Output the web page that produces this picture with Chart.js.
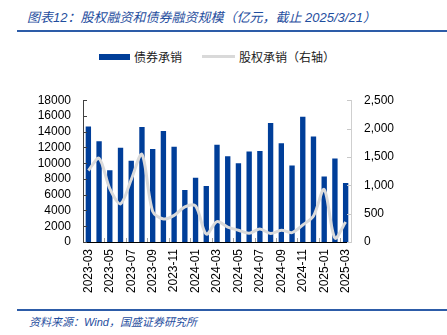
<!DOCTYPE html>
<html>
<head>
<meta charset="utf-8">
<script src="https://cdn.jsdelivr.net/npm/chart.js@4.4.1/dist/chart.umd.min.js"></script>
<style>
  html, body { margin: 0; padding: 0; background: #fff; }
  body { width: 447px; height: 335px; position: relative; overflow: hidden; font-family: "Noto Sans CJK SC", "Liberation Sans", sans-serif; }
  #titulo { position: absolute; left: 27px; top: 7px; font-size: 13px; font-style: italic; color: #1f4e9e; white-space: nowrap; font-family: "Liberation Sans", "Noto Sans CJK SC", sans-serif; }
  .regla { position: absolute; left: 17px; width: 430px; height: 2px; background: #2d5ca8; }
  #leyenda { position: absolute; top: 46px; left: 99px; font-size: 12px; color: #222; white-space: nowrap; }
  #leyenda span { display: inline-block; vertical-align: middle; }
  .caja { width: 31px; height: 6px; background: #003e99; margin-right: 4px; }
  .raya { width: 33px; height: 3px; background: #d9d9d9; margin: 0 4px 0 20px; }
  #contenedor { position: absolute; left: 0; top: 80px; width: 447px; height: 225px; }
  #fuente { position: absolute; left: 29px; top: 313px; font-size: 11px; font-style: italic; color: #1f4e9e; white-space: nowrap; font-family: "Liberation Sans", "Noto Sans CJK SC", sans-serif; }
</style>
</head>
<body>
<div id="titulo">图表12：股权融资和债券融资规模（亿元，截止 2025/3/21）</div>
<div class="regla" style="top:30px"></div>
<div id="leyenda"><span class="caja"></span><span>债券承销</span><span class="raya"></span><span>股权承销（右轴）</span></div>
<div id="contenedor"><canvas id="grafico"></canvas></div>
<div class="regla" style="top:309px"></div>
<div id="fuente">资料来源：Wind，国盛证券研究所</div>

<script>
const meses = ['2023-03', '2023-04', '2023-05', '2023-06', '2023-07', '2023-08', '2023-09',
  '2023-10', '2023-11', '2023-12', '2024-01', '2024-02', '2024-03', '2024-04', '2024-05',
  '2024-06', '2024-07', '2024-08', '2024-09', '2024-10', '2024-11', '2024-12', '2025-01',
  '2025-02', '2025-03'];

// 债券承销（亿元，左轴）
const bonos = [14650, 12800, 9100, 11950, 10300, 14600, 11800, 14100, 12100, 6600, 8150, 7100,
  12350, 10900, 10000, 11500, 11550, 15100, 12550, 9700, 15900, 13400, 8300, 10600, 7500];

// 股权承销（亿元，右轴）
const acciones = [1262, 1475, 940, 673, 1101, 1544, 540, 406, 470, 620, 636, 139,
  360, 262, 208, 155, 230, 150, 208, 166, 300, 460, 925, 70, 353];

const fuenteNum = { family: 'Liberation Sans', size: 12 };

// marcas cortas hacia dentro en los ejes
const marcas = {
  id: 'marcas',
  afterDraw(chart) {
    const { ctx, chartArea: a, scales } = chart;
    ctx.save();
    ctx.lineWidth = 1;
    ctx.strokeStyle = '#404040';
    scales.y.ticks.forEach(t => {
      const y = Math.round(scales.y.getPixelForValue(t.value)) + 0.5;
      ctx.beginPath(); ctx.moveTo(a.left, y); ctx.lineTo(a.left + 4, y); ctx.stroke();
    });
    ctx.strokeStyle = '#c8c8c8';
    scales.y1.ticks.forEach(t => {
      const y = Math.round(scales.y1.getPixelForValue(t.value)) + 0.5;
      ctx.beginPath(); ctx.moveTo(a.right - 4, y); ctx.lineTo(a.right, y); ctx.stroke();
    });
    ctx.strokeStyle = '#a0a0a0';
    for (let i = 1; i < meses.length - 1; i += 2) {
      const x = Math.round((scales.x.getPixelForValue(i) + scales.x.getPixelForValue(i + 1)) / 2) + 0.5;
      ctx.beginPath(); ctx.moveTo(x, a.bottom); ctx.lineTo(x, a.bottom - 4); ctx.stroke();
    }
    ctx.restore();
  }
};

new Chart(document.getElementById('grafico').getContext('2d'), {
  type: 'bar',
  data: {
    labels: meses,
    datasets: [
      {
        type: 'line',
        label: '股权承销（右轴）',
        data: acciones,
        yAxisID: 'y1',
        borderColor: '#dadada',
        borderWidth: 3,
        pointRadius: 0,
        tension: 0.3,
        fill: false,
        order: 0
      },
      {
        label: '债券承销',
        data: bonos,
        yAxisID: 'y',
        backgroundColor: '#003e99',
        barPercentage: 0.5,
        categoryPercentage: 1,
        order: 1
      }
    ]
  },
  options: {
    responsive: true,
    maintainAspectRatio: false,
    animation: false,
    layout: { padding: { top: 6, left: 0, right: 0, bottom: 0 } },
    plugins: {
      legend: { display: false },
      tooltip: { enabled: false }
    },
    scales: {
      x: {
        offset: true,
        grid: { display: false, drawTicks: false },
        border: { color: '#000', width: 1 },
        afterFit: s => { s.height = 63; },
        ticks: {
          autoSkip: false,
          minRotation: 90,
          maxRotation: 90,
          padding: 7,
          color: '#000',
          font: fuenteNum,
          callback: (v, i) => (i % 2 === 0 ? meses[i] : '')
        }
      },
      y: {
        position: 'left',
        min: 0,
        max: 18000,
        grid: { display: false, drawTicks: false },
        border: { color: '#404040', width: 1 },
        afterFit: s => { s.width = 83; },
        ticks: {
          stepSize: 2000,
          autoSkip: false,
          padding: 12,
          color: '#000',
          font: fuenteNum,
          callback: v => String(v)
        }
      },
      y1: {
        position: 'right',
        min: 0,
        max: 2500,
        grid: { display: false, drawTicks: false },
        border: { color: '#cfcfcf', width: 1 },
        afterFit: s => { s.width = 96; },
        ticks: {
          stepSize: 500,
          autoSkip: false,
          padding: 13,
          color: '#000',
          font: fuenteNum,
          callback: v => v.toLocaleString('en-US')
        }
      }
    }
  },
  plugins: [marcas]
});
</script>
</body>
</html>
